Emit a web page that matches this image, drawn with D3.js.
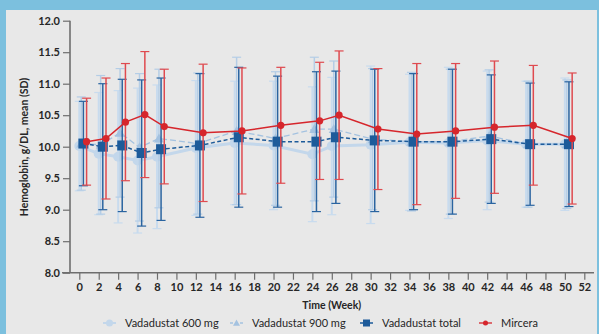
<!DOCTYPE html>
<html>
<head>
<meta charset="utf-8">
<script src="https://cdn.jsdelivr.net/npm/d3@7"></script>
<style>
  html, body { margin: 0; padding: 0; background: #7cc0de; }
  #vis { width: 599px; height: 334px; }
  text { font-family: Lato, "Open Sans", sans-serif; fill: #262626; }
</style>
</head>
<body>
<div id="vis"></div>
<script>
// weeks of visits
var weeks = [0, 2, 4, 6, 8, 12, 16, 20, 24, 26, 30, 34, 38, 42, 46, 50]

var mean600 = [10.01, 9.89, 9.84, 9.78, 9.84, 9.98, 10.06, 10.02, 9.88, 10.01, 10.03, 10.07, 10.06, 10.10, 10.04, 10.04]
var sd600 = [0.71, 0.97, 1.05, 1.15, 1.14, 1.07, 0.98, 1.02, 1.07, 1.09, 1.25, 1.08, 1.2, 1.1, 1.0, 1.05]

var mean900 = [10.05, 10.03, 10.22, 9.99, 10.13, 10.05, 10.25, 10.13, 10.28, 10.28, 10.12, 10.08, 10.08, 10.17, 10.04, 10.04]
var sd900 = [0.74, 1.1, 1.02, 1.17, 1.1, 1.12, 1.17, 1.06, 1.14, 1.08, 1.12, 1.1, 1.15, 1.05, 1.0, 1.02]

var meanTotal = [10.05, 10.0, 10.02, 9.90, 9.96, 10.02, 10.15, 10.08, 10.08, 10.15, 10.10, 10.08, 10.08, 10.12, 10.04, 10.04]
var sdTotal = [0.67, 1.0, 1.05, 1.16, 1.13, 1.14, 1.11, 1.04, 1.11, 1.05, 1.13, 1.08, 1.15, 1.02, 0.97, 0.99]

var meanMircera = [10.08, 10.13, 10.39, 10.51, 10.32, 10.22, 10.25, 10.34, 10.41, 10.50, 10.28, 10.20, 10.25, 10.31, 10.34, 10.13]
var sdMircera = [0.69, 0.96, 0.93, 1.0, 0.91, 1.09, 1.0, 0.92, 0.93, 1.02, 0.96, 1.12, 1.07, 1.05, 0.95, 1.04]

var xTicks = d3.range(0, 53, 2)
var yTicks = [8.0, 8.5, 9.0, 9.5, 10.0, 10.5, 11.0, 11.5, 12.0]

var series = [
    { name: "Vadadustat 600 mg", mean: mean600, sd: sd600, shift: 0, color: "#c3d7eb", barColor: "#c8dbee", lineWidth: 3, dash: null, marker: "circle" },
    { name: "Vadadustat 900 mg", mean: mean900, sd: sd900, shift: 0.2, color: "#a4c2e0", barColor: "#b4cde6", lineWidth: 1.3, dash: "6,3", marker: "triangle" },
    { name: "Vadadustat total", mean: meanTotal, sd: sdTotal, shift: 0.42, color: "#1d5b9a", barColor: "#2a64a0", lineWidth: 1.5, dash: "4,2.5", marker: "square" },
    { name: "Mircera", mean: meanMircera, sd: sdMircera, shift: 0.75, color: "#d6262c", barColor: "#df4a4f", lineWidth: 1.5, dash: null, marker: "dot" }
]

var root = d3.select("#vis").append("svg")
    .attr("width", 599)
    .attr("height", 334)

// grey panel inside blue frame
root.append("rect")
    .attr("x", 6).attr("y", 10)
    .attr("width", 591).attr("height", 324)
    .attr("fill", "#e8e8e8")

var x = d3.scaleLinear().domain([0, 52]).range([79.3, 584.3])
var y = d3.scaleLinear().domain([8, 12]).range([272.7, 20.7])

// axes
var yAxis = root.append("g")
    .attr("transform", "translate(70,0)")
    .call(d3.axisLeft(y).tickValues(yTicks).tickFormat(d3.format(".1f")).tickSize(7).tickPadding(3))
yAxis.select("path.domain").attr("stroke", "#6e6e6e").attr("stroke-width", 1.6)
    .attr("d", "M0," + y(12) + "V" + y(8))
yAxis.selectAll(".tick line").attr("stroke", "#6e6e6e").attr("stroke-width", 1.2)
yAxis.selectAll("text")
    .style("font-family", "Lato")
    .style("font-weight", "700")
    .attr("font-size", "11px")
    .attr("fill", "#333")

var xAxis = root.append("g")
    .attr("transform", "translate(0," + y(8) + ")")
    .call(d3.axisBottom(x).tickValues(xTicks).tickSize(7).tickPadding(4))
xAxis.select("path.domain").attr("stroke", "#6e6e6e").attr("stroke-width", 1.6)
    .attr("d", "M62,0H594")
xAxis.selectAll(".tick line").attr("stroke", "#6e6e6e").attr("stroke-width", 1.2)
xAxis.selectAll("text")
    .style("font-family", "Lato")
    .style("font-weight", "700")
    .attr("font-size", "11px")
    .attr("fill", "#333")

root.append("text")
    .attr("x", x(26)).attr("y", 309)
    .attr("text-anchor", "middle")
    .style("font-weight", "700")
    .attr("font-size", "10.5px")
    .text("Time (Week)")

root.append("text")
    .attr("transform", "translate(28,147)rotate(-90)")
    .attr("text-anchor", "middle")
    .style("font-weight", "700")
    .attr("font-size", "10.5px")
    .text("Hemoglobin, g/DL, mean (SD)")

function drawMarker(g, type, cx, cy, color, legend) {
    var k = legend ? 0.7 : 1
    if (type == "circle") {
        g.append("circle").attr("cx", cx).attr("cy", cy).attr("r", 5 * k).attr("fill", color)
    } else if (type == "triangle") {
        var s = 5 * k
        g.append("path")
            .attr("d", "M" + cx + "," + (cy - s) + "L" + (cx + s) + "," + (cy + s * 0.8) + "L" + (cx - s) + "," + (cy + s * 0.8) + "Z")
            .attr("fill", color)
    } else if (type == "square") {
        var h = 5 * k
        g.append("rect").attr("x", cx - h).attr("y", cy - h).attr("width", 2 * h).attr("height", 2 * h).attr("fill", color)
    } else {
        g.append("circle").attr("cx", cx).attr("cy", cy).attr("r", 3.6 * k).attr("fill", color)
    }
}

series.forEach(function (s) {
    var g = root.append("g")
    var pts = weeks.map(function (w, i) {
        return { x: x(w + s.shift), m: s.mean[i], sd: s.sd[i] }
    })

    // error bars
    pts.forEach(function (p) {
        var top = y(p.m + p.sd), bot = y(p.m - p.sd)
        g.append("line").attr("x1", p.x).attr("x2", p.x).attr("y1", top).attr("y2", bot)
            .attr("stroke", s.barColor).attr("stroke-width", s.marker == "circle" ? 2 : 1.5)
        ;[top, bot].forEach(function (yy) {
            g.append("line").attr("x1", p.x - 4.5).attr("x2", p.x + 4.5).attr("y1", yy).attr("y2", yy)
                .attr("stroke", s.barColor).attr("stroke-width", 1.2)
        })
    })

    var line = d3.line().x(function (p) { return p.x }).y(function (p) { return y(p.m) })
    g.append("path")
        .attr("d", line(pts))
        .attr("fill", "none")
        .attr("stroke", s.color)
        .attr("stroke-width", s.lineWidth)
        .attr("stroke-dasharray", s.dash)

    pts.forEach(function (p) {
        drawMarker(g, s.marker, p.x, y(p.m), s.color, false)
    })
})

// legend
var legendX = [103, 230, 360, 479]
var legend = root.append("g")
series.forEach(function (s, i) {
    var lx = legendX[i], ly = 323
    legend.append("line")
        .attr("x1", lx).attr("x2", lx + 13).attr("y1", ly).attr("y2", ly)
        .attr("stroke", s.color).attr("stroke-width", s.marker == "circle" ? 2 : 1.3)
        .attr("stroke-dasharray", s.dash ? "3,2" : null)
    drawMarker(legend, s.marker, lx + 6.5, ly, s.color, true)
    legend.append("text")
        .attr("x", lx + 22).attr("y", ly + 4)
        .attr("font-size", "11px")
        .text(s.name)
})
</script>
</body>
</html>
